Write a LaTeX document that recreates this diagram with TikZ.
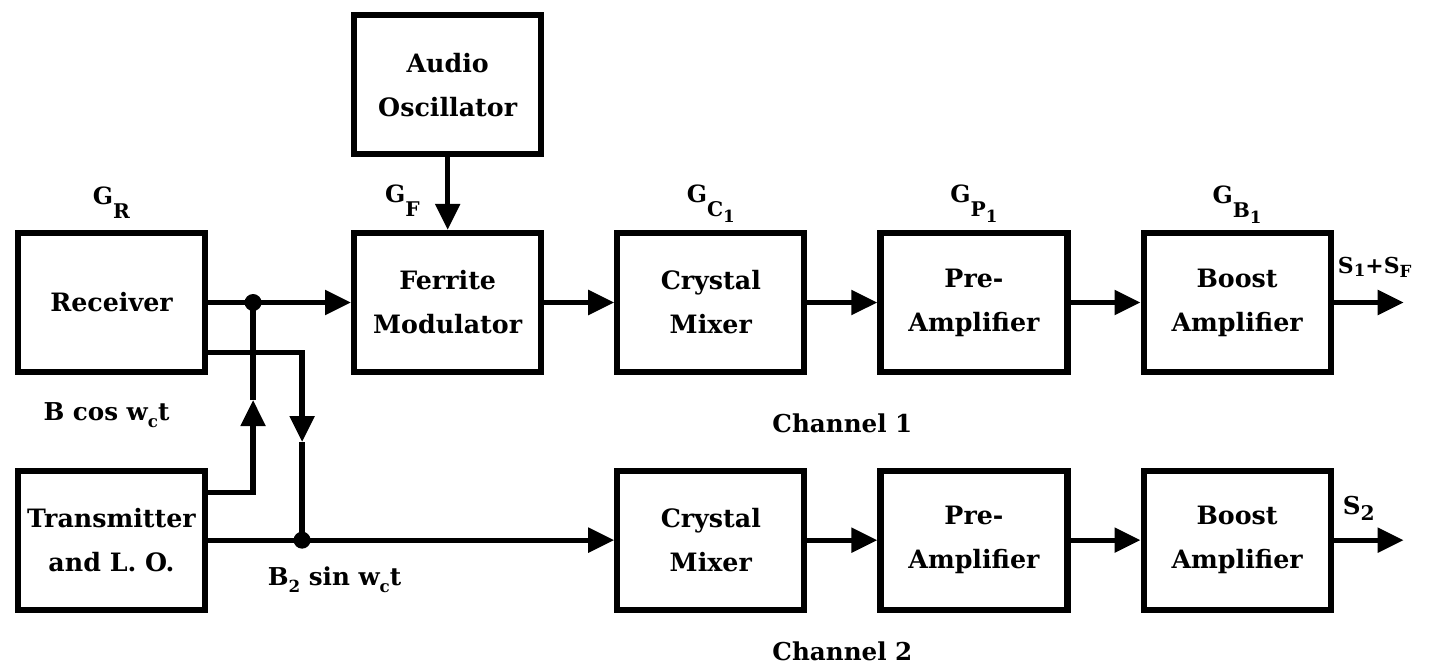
\documentclass[tikz,border=0pt]{standalone}
\usepackage{fontspec}
\setmainfont{DejaVu Serif}
\usepackage{tikz}
\usetikzlibrary{positioning,arrows.meta,calc}

\newcommand{\lowr}[2][0.28cm]{\raisebox{-#1}{\fontsize{11.5}{11.5}\selectfont #2}}
\newcommand{\lows}[2][0.12cm]{\raisebox{-#1}{\fontsize{9.5}{9.5}\selectfont #2}}

\begin{document}
\begin{tikzpicture}[node distance=1.4cm,
    blk/.style={draw, line width=3.5pt, minimum width=3.74cm, minimum height=2.78cm, align=center, font=\fontsize{14.4}{25}\selectfont\bfseries},
    txt/.style={inner sep=0pt, font=\fontsize{14}{16}\selectfont\bfseries},
    gain/.style={inner sep=0pt, font=\fontsize{13.5}{14}\selectfont\bfseries},
    outl/.style={inner sep=0pt, font=\fontsize{12.5}{14}\selectfont\bfseries},
    wire/.style={line width=3pt},
    conn/.style={wire, -{Triangle[length=0.52cm, width=0.48cm]}}]
    \useasboundingbox (0,0) rectangle (28.78,-13.42);

    \node[blk] (rx) at (2.23,-6.05) {Receiver};
    \node[blk] (fm) [right=2.86cm of rx] {Ferrite\\Modulator};
    \node[blk] (osc) [above=1.45cm of fm] {Audio\\Oscillator};
    \node[blk] (cm1) [right=of fm] {Crystal\\Mixer};
    \node[blk] (pa1) [right=of cm1] {Pre-\\Amplifier};
    \node[blk] (ba1) [right=of pa1] {Boost\\Amplifier};
    \node[blk] (tx) [below=1.85cm of rx] {Transmitter\\and L. O.};
    \node[blk] (cm2) [below=1.85cm of cm1] {Crystal\\Mixer};
    \node[blk] (pa2) [right=of cm2] {Pre-\\Amplifier};
    \node[blk] (ba2) [right=of pa2] {Boost\\Amplifier};

    \node[gain] (gR) [above=0.22cm of rx] {G\lowr{R}};
    \node[gain] (gF) [above left=0.26cm and 0.55cm of fm.north] {G\lowr{F}};
    \node[gain] (gC) [above=0.14cm of cm1] {G\lowr{C\lows{1}}};
    \node[gain] (gP) [above=0.14cm of pa1] {G\lowr{P\lows{1}}};
    \node[gain] (gB) [above=0.12cm of ba1] {G\lowr{B\lows{1}}};

    \coordinate (j1) at ($(rx.east)+(0.9,0)$);
    \coordinate (r2) at ($(rx.east)+(0,-1)$);
    \coordinate (j2) at ($(tx.east)+(1.88,0)$);
    \coordinate (t1) at ($(tx.east)+(0,0.95)$);
    \coordinate (u1) at ($(j1)+(0,-1.95)$);
    \coordinate (d2) at ($(j2 |- r2)+(0,-1.79)$);
    \coordinate (o1) at ($(ba1.east)+(1.4,0)$);
    \coordinate (o2) at ($(ba2.east)+(1.4,0)$);

    \draw[conn] (osc) -- (fm);
    \draw[conn] (rx.east) -- (fm.west);
    \draw[conn] (fm) -- (cm1);
    \draw[conn] (cm1) -- (pa1);
    \draw[conn] (pa1) -- (ba1);
    \draw[conn] (ba1) -- (o1);
    \draw[conn] (t1) -| (u1);
    \draw[wire] (u1) -- (j1);
    \draw[conn] (r2) -| (d2);
    \draw[wire] (d2) -- (j2);
    \draw[conn] (tx.east) -- (cm2.west);
    \draw[conn] (cm2) -- (pa2);
    \draw[conn] (pa2) -- (ba2);
    \draw[conn] (ba2) -- (o2);
    \fill (j1) circle (0.17cm);
    \fill (j2) circle (0.17cm);

    \node[txt] (bc) at ($(rx.south)+(-0.1,-0.8)$) {B cos w\lows[0.14cm]{c}t};
    \node[txt] (bs) at ($(j2)+(0.65,-0.8)$) {B\lows[0.14cm]{2} sin w\lows[0.14cm]{c}t};
    \node[txt] (ch1) at ($(cm1.south)!0.5!(pa1.south)+(0,-0.97)$) {Channel 1};
    \node[txt] (ch2) at ($(cm2.south)!0.5!(pa2.south)+(0,-0.78)$) {Channel 2};
    \node[outl] (s1) at ($(o1)+(-0.58,0.7)$) {S\lows[0.06cm]{1}+S\lows[0.08cm]{F}};
    \node[txt] (s2) at ($(o2)+(-0.9,0.64)$) {S\lowr[0.12cm]{2}};
\end{tikzpicture}
\end{document}
